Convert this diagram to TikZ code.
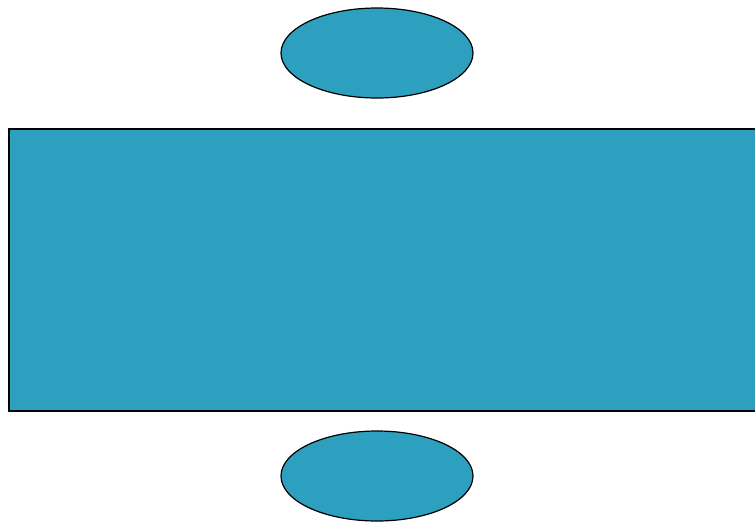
\documentclass[tikz,border=0pt]{standalone}
\usepackage{xcolor}
\usetikzlibrary{shapes.geometric}
\definecolor{ShapeTeal}{HTML}{2DA0BF}

\begin{document}
\begin{tikzpicture}[x=1pt,y=-1pt,
    blob/.style={draw=black,fill=ShapeTeal,line width=1.2pt,inner sep=0pt},
    oval/.style={blob,ellipse,minimum width=192pt,minimum height=90pt},
    slab/.style={blob,rectangle,minimum width=752pt,minimum height=282pt}]
  \useasboundingbox (0,0) rectangle (755,523);
  \clip (0,0) rectangle (755,523);
  \node[oval] (top) at (377,53) {};
  \node[slab] (body) at (385,270) {};
  \node[oval] (bottom) at (377,476) {};
\end{tikzpicture}
\end{document}
